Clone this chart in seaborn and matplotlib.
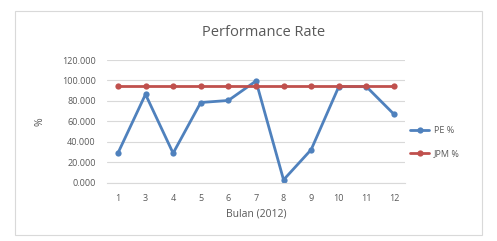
import numpy as np
import pandas as pd
import matplotlib
matplotlib.use("Agg")
import matplotlib.pyplot as plt
import seaborn as sns

# data
bulan = ["1", "3", "4", "5", "6", "7", "8", "9", "10", "11", "12"]
pe = [29.0, 86.5, 29.0, 78.5, 80.5, 99.5, 3.0, 32.5, 94.0, 94.0, 67.0]
jpm = [94.5] * 11
y_ticks = [0, 20, 40, 60, 80, 100, 120]

df = pd.DataFrame({
    "Bulan": bulan * 2,
    "nilai": pe + jpm,
    "seri": ["PE %"] * len(bulan) + ["JPM %"] * len(bulan),
})
df["pos"] = list(range(len(bulan))) * 2

sns.set_style("white")
plt.rcParams["font.family"] = ["Open Sans", "DejaVu Sans"]

fig = plt.figure(figsize=(4.97, 2.41), dpi=100)
ax = fig.add_axes([0.215, 0.241, 0.60, 0.51])

palette = {"PE %": "#4f81bd", "JPM %": "#c0504d"}
sns.lineplot(data=df, x="pos", y="nilai", hue="seri", palette=palette,
             marker="o", markersize=4.5, markeredgewidth=0, linewidth=2,
             sort=False, ax=ax)

ax.set_xlim(-0.4, len(bulan) - 0.6)
ax.set_ylim(0, 120)
ax.set_yticks(y_ticks)
ax.set_yticklabels([f"{v:.3f}" for v in y_ticks], fontsize=6.5, color="#595959")
ax.set_xticks(range(len(bulan)))
ax.set_xticklabels(bulan, fontsize=6.5, color="#595959")
ax.tick_params(length=0, pad=8)
ax.yaxis.grid(True, color="#d9d9d9", linewidth=0.8)
ax.set_axisbelow(True)
for s in ["top", "right", "left"]:
    ax.spines[s].set_visible(False)
ax.spines["bottom"].set_color("#d9d9d9")

ax.set_xlabel("Bulan (2012)", fontsize=7.5, color="#595959", labelpad=4)
ax.set_ylabel("%", fontsize=7.5, color="#595959", rotation=90, labelpad=12)
fig.text(0.53, 0.865, "Performance Rate", ha="center", va="center",
         fontsize=10.5, color="#595959")

handles, labels = ax.get_legend_handles_labels()
ax.get_legend().remove()
leg = ax.legend(handles, labels, loc="center left", bbox_to_anchor=(0.99, 0.33),
                frameon=False, fontsize=6.5, handlelength=2.1, labelspacing=1.6,
                handletextpad=0.5)
for t in leg.get_texts():
    t.set_color("#595959")

# chart border
fig.patches.append(plt.Rectangle((0.03, 0.025), 0.94, 0.93, transform=fig.transFigure,
                                 fill=False, edgecolor="#d9d9d9", linewidth=0.8))

fig.savefig("out.png", dpi=100)
